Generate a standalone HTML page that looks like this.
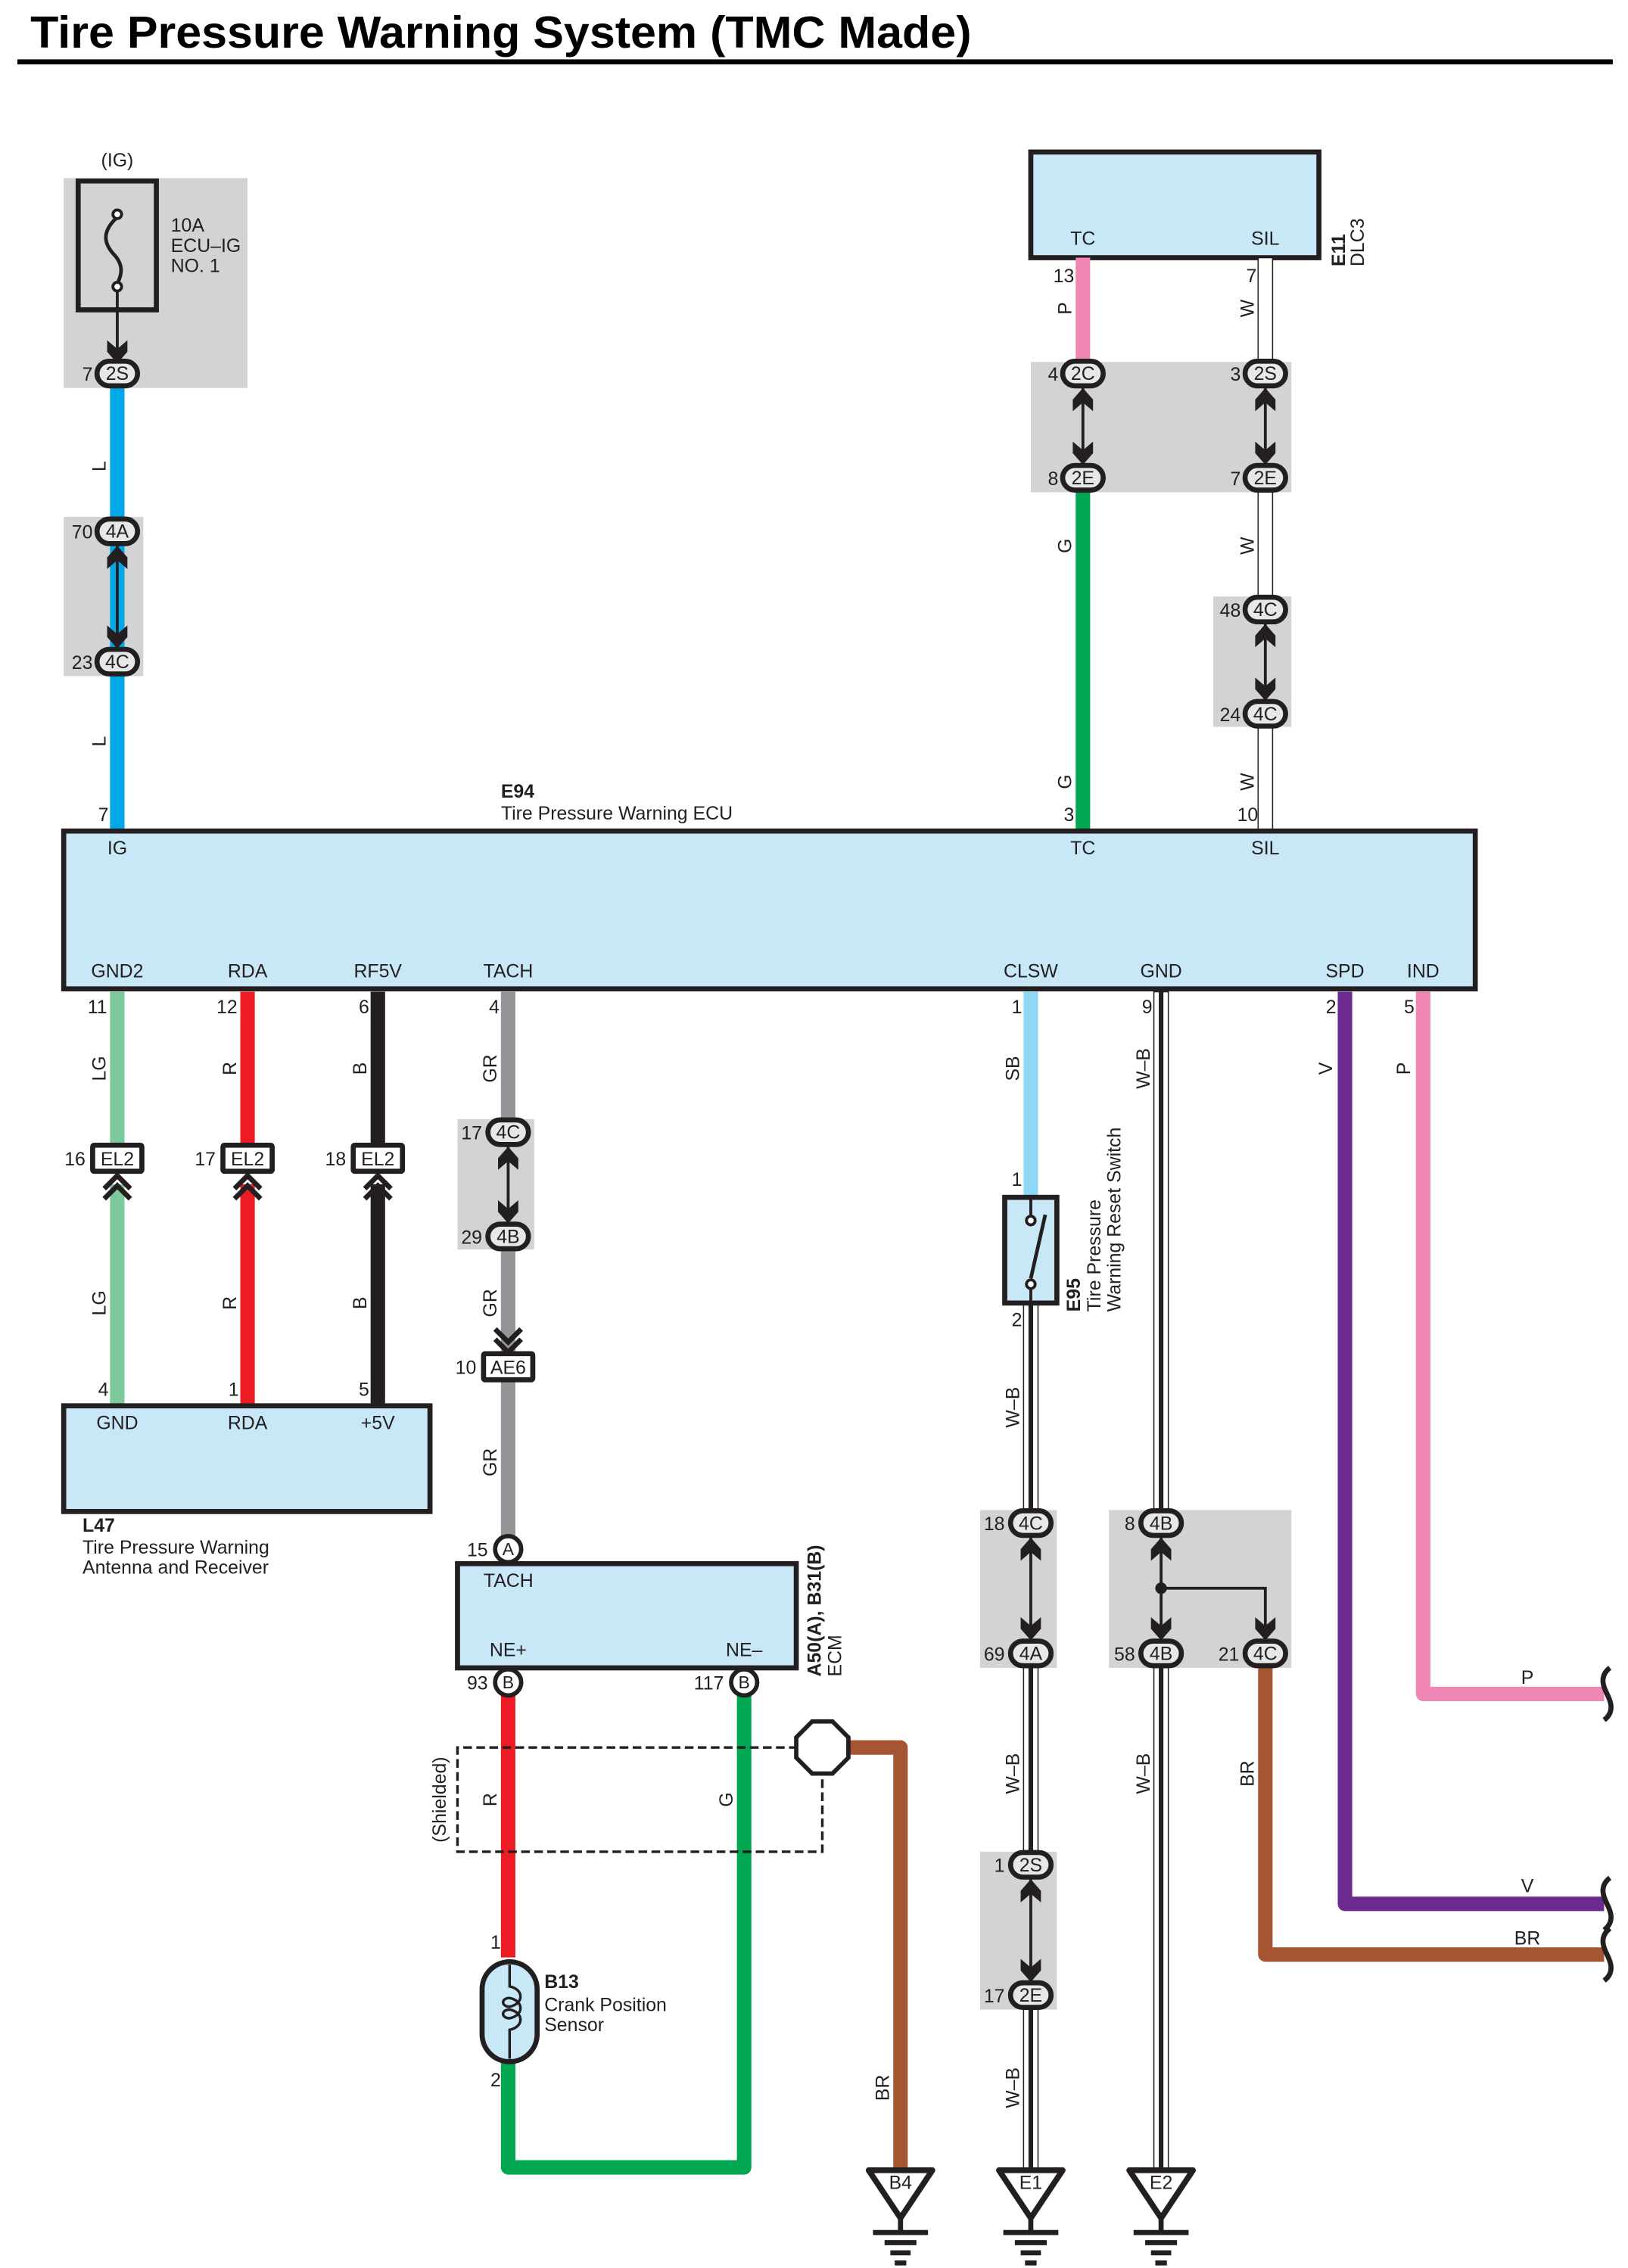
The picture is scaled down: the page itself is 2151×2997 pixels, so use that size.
<!DOCTYPE html>
<html><head><meta charset="utf-8"><style>
html,body{margin:0;padding:0;background:#fff;}
svg{display:block;}
text{font-family:"Liberation Sans",Arial,sans-serif;fill:#231f20;}
</style></head><body>
<svg width="2151" height="2997" viewBox="0 0 1124.5 1566.5" preserveAspectRatio="none" xmlns="http://www.w3.org/2000/svg">
<defs>
<path id="ad" d="M0,0 L-7,-8 L-7,-16 L0,-10 L7,-16 L7,-8 Z" fill="#231f20"/>
<g id="ch"><path d="M-9,0 L0,-9 L9,0 M-9,7 L0,-2 L9,7" fill="none" stroke="#231f20" stroke-width="3.5"/></g>
<g id="gnd"><path d="M-22,0 L22,0 L0,33 Z" fill="#fff" stroke="#231f20" stroke-width="4" stroke-linejoin="round"/><path d="M0,33 L0,43 M-19,43 L19,43 M-11,50 L11,50 M-7,57 L7,57 M-4,64 L4,64" stroke="#231f20" stroke-width="3.5"/></g>
<g id="wv"><path d="M2,-18 C-6,-12 -2,-4 0,0 C2,4 6,12 -2,18" fill="none" stroke="#231f20" stroke-width="3.5"/></g>
</defs>

<!-- Title -->
<text x="21" y="33" font-size="31" font-weight="bold" textLength="650" lengthAdjust="spacingAndGlyphs" style="fill:#000">Tire Pressure Warning System (TMC Made)</text>
<rect x="12" y="41" width="1102" height="3.5" fill="#000"/>

<!-- gray boxes -->
<g fill="#d1d3d4">
<rect x="44" y="123" width="127" height="145"/>
<rect x="44" y="357" width="55" height="110"/>
<rect x="712" y="250" width="180" height="90"/>
<rect x="838" y="412" width="54" height="90"/>
<rect x="316" y="773" width="53" height="90"/>
<rect x="677" y="1043" width="53" height="109"/>
<rect x="766" y="1043" width="126" height="109"/>
<rect x="677" y="1279" width="53" height="109"/>
</g>

<!-- fuse -->
<text x="81" y="115" font-size="13" text-anchor="middle">(IG)</text>
<rect x="54" y="125" width="54" height="89" fill="none" stroke="#231f20" stroke-width="3.5"/>
<path d="M81,150 C70,160 72,168 78,175 C86,183 84,190 81,196" fill="none" stroke="#231f20" stroke-width="2.5"/>
<circle cx="81" cy="148" r="3" fill="#fff" stroke="#231f20" stroke-width="2"/>
<circle cx="81" cy="198" r="3" fill="#fff" stroke="#231f20" stroke-width="2"/>
<line x1="81" y1="201" x2="81" y2="245" stroke="#231f20" stroke-width="2"/>
<use href="#ad" x="81" y="251"/>
<text x="118" y="160" font-size="13">10A</text>
<text x="118" y="174" font-size="13">ECU–IG</text>
<text x="118" y="188" font-size="13">NO. 1</text>

<!-- DLC3 -->
<rect x="712" y="105" width="199" height="73" fill="#c8e8f8" stroke="#231f20" stroke-width="3.5"/>
<text x="748" y="169" font-size="13" text-anchor="middle">TC</text>
<text x="874" y="169" font-size="13" text-anchor="middle">SIL</text>
<text transform="rotate(-90 929 184)" x="929" y="184" font-size="13" font-weight="bold">E11</text>
<text transform="rotate(-90 942 184)" x="942" y="184" font-size="13">DLC3</text>

<!-- wires top -->
<g stroke-width="10" fill="none" stroke-linejoin="round">
<line x1="81" y1="266" x2="81" y2="574" stroke="#00a8e8"/>
<line x1="748" y1="178" x2="748" y2="250" stroke="#f086b4"/>
<line x1="748" y1="338" x2="748" y2="574" stroke="#00a650"/>
</g>
<g>
<rect x="869" y="178" width="10" height="72" fill="#fff" stroke="#231f20" stroke-width="0.8"/>
<rect x="869" y="338" width="10" height="74" fill="#fff" stroke="#231f20" stroke-width="0.8"/>
<rect x="869" y="500" width="10" height="74" fill="#fff" stroke="#231f20" stroke-width="0.8"/>
</g>

<!-- ECU -->
<rect x="44" y="574" width="975" height="109" fill="#c8e8f8" stroke="#231f20" stroke-width="3.5"/>
<text x="346" y="551" font-size="13" font-weight="bold">E94</text>
<text x="346" y="566" font-size="13">Tire Pressure Warning ECU</text>
<g font-size="13" text-anchor="middle">
<text x="81" y="590">IG</text><text x="748" y="590">TC</text><text x="874" y="590">SIL</text>
<text x="81" y="675">GND2</text><text x="171" y="675">RDA</text><text x="261" y="675">RF5V</text><text x="351" y="675">TACH</text>
<text x="712" y="675">CLSW</text><text x="802" y="675">GND</text><text x="929" y="675">SPD</text><text x="983" y="675">IND</text>
</g>

<!-- wires below ECU -->
<g stroke-width="10" fill="none" stroke-linejoin="round">
<line x1="81" y1="685" x2="81" y2="792" stroke="#7ec99b"/>
<line x1="81" y1="818" x2="81" y2="971" stroke="#7ec99b"/>
<line x1="171" y1="685" x2="171" y2="792" stroke="#ed1c24"/>
<line x1="171" y1="818" x2="171" y2="971" stroke="#ed1c24"/>
<line x1="261" y1="685" x2="261" y2="792" stroke="#231f20"/>
<line x1="261" y1="818" x2="261" y2="971" stroke="#231f20"/>
<line x1="351" y1="685" x2="351" y2="775" stroke="#939598"/>
<line x1="351" y1="862" x2="351" y2="1064" stroke="#939598"/>
<line x1="712" y1="685" x2="712" y2="828" stroke="#8fd8f5"/>
<path d="M929,685 L929,1315 L1108,1315" stroke="#6d2a8e"/>
<path d="M983,685 L983,1170 L1108,1170" stroke="#f086b4"/>
<path d="M874,1150 L874,1350 L1108,1350" stroke="#a65532"/>
<path d="M351,1170 L351,1352" stroke="#ed1c24"/>
<path d="M514,1170 L514,1497 L351,1497 L351,1424" stroke="#00a650"/>
<path d="M586,1207 L622,1207 L622,1497" stroke="#a65532"/>
</g>
<!-- W-B wires -->
<g>
<rect x="797" y="685" width="10" height="360" fill="#fff" stroke="#231f20" stroke-width="0.8"/>
<rect x="797" y="1150" width="10" height="351" fill="#fff" stroke="#231f20" stroke-width="0.8"/>
<rect x="707" y="900" width="10" height="145" fill="#fff" stroke="#231f20" stroke-width="0.8"/>
<rect x="707" y="1150" width="10" height="131" fill="#fff" stroke="#231f20" stroke-width="0.8"/>
<rect x="707" y="1386" width="10" height="115" fill="#fff" stroke="#231f20" stroke-width="0.8"/>
</g>
<g stroke="#231f20" stroke-width="3.2">
<line x1="802" y1="685" x2="802" y2="1045"/><line x1="802" y1="1150" x2="802" y2="1501"/>
<line x1="712" y1="900" x2="712" y2="1045"/><line x1="712" y1="1150" x2="712" y2="1281"/><line x1="712" y1="1386" x2="712" y2="1501"/>
</g>

<!-- wire ends -->
<use href="#wv" x="1110" y="1170"/><use href="#wv" x="1110" y="1315"/><use href="#wv" x="1110" y="1350"/>

<!-- double arrows in gray boxes -->
<g stroke="#231f20" stroke-width="2">
<line x1="81" y1="377" x2="81" y2="447"/>
<line x1="748" y1="268" x2="748" y2="320"/><line x1="874" y1="268" x2="874" y2="320"/>
<line x1="874" y1="431" x2="874" y2="483"/>
<line x1="351" y1="792" x2="351" y2="844"/>
<line x1="712" y1="1062" x2="712" y2="1132"/>
<line x1="802" y1="1062" x2="802" y2="1132"/>
<path d="M802,1097 L874,1097 L874,1132" fill="none"/>
<line x1="712" y1="1298" x2="712" y2="1368"/>
</g>
<circle cx="802" cy="1097" r="4" fill="#231f20"/>
<g>
<use href="#ad" transform="translate(81,377) rotate(180)"/><use href="#ad" x="81" y="448"/>
<use href="#ad" transform="translate(748,268) rotate(180)"/><use href="#ad" x="748" y="321"/>
<use href="#ad" transform="translate(874,268) rotate(180)"/><use href="#ad" x="874" y="321"/>
<use href="#ad" transform="translate(874,431) rotate(180)"/><use href="#ad" x="874" y="484"/>
<use href="#ad" transform="translate(351,792) rotate(180)"/><use href="#ad" x="351" y="845"/>
<use href="#ad" transform="translate(712,1062) rotate(180)"/><use href="#ad" x="712" y="1133"/>
<use href="#ad" transform="translate(802,1062) rotate(180)"/><use href="#ad" x="802" y="1133"/><use href="#ad" x="874" y="1133"/>
<use href="#ad" transform="translate(712,1298) rotate(180)"/><use href="#ad" x="712" y="1369"/>
</g>

<!-- pill connectors -->
<g fill="#e6e7e8" stroke="#231f20" stroke-width="3.5">
<rect x="67" y="249.5" width="28" height="17" rx="8.5"/>
<rect x="67" y="358.5" width="28" height="17" rx="8.5"/><rect x="67" y="448.5" width="28" height="17" rx="8.5"/>
<rect x="734" y="249.5" width="28" height="17" rx="8.5"/><rect x="734" y="321.5" width="28" height="17" rx="8.5"/>
<rect x="860" y="249.5" width="28" height="17" rx="8.5"/><rect x="860" y="321.5" width="28" height="17" rx="8.5"/>
<rect x="860" y="412.5" width="28" height="17" rx="8.5"/><rect x="860" y="484.5" width="28" height="17" rx="8.5"/>
<rect x="337" y="773.5" width="28" height="17" rx="8.5"/><rect x="337" y="845.5" width="28" height="17" rx="8.5"/>
<rect x="698" y="1043.5" width="28" height="17" rx="8.5"/><rect x="698" y="1133.5" width="28" height="17" rx="8.5"/>
<rect x="788" y="1043.5" width="28" height="17" rx="8.5"/><rect x="788" y="1133.5" width="28" height="17" rx="8.5"/>
<rect x="860" y="1133.5" width="28" height="17" rx="8.5"/>
<rect x="698" y="1279.5" width="28" height="17" rx="8.5"/><rect x="698" y="1369.5" width="28" height="17" rx="8.5"/>
</g>
<g font-size="13" text-anchor="middle">
<text x="81" y="262.5">2S</text><text x="81" y="371.5">4A</text><text x="81" y="461.5">4C</text>
<text x="748" y="262.5">2C</text><text x="748" y="334.5">2E</text>
<text x="874" y="262.5">2S</text><text x="874" y="334.5">2E</text>
<text x="874" y="425.5">4C</text><text x="874" y="497.5">4C</text>
<text x="351" y="786.5">4C</text><text x="351" y="858.5">4B</text>
<text x="712" y="1056.5">4C</text><text x="712" y="1146.5">4A</text>
<text x="802" y="1056.5">4B</text><text x="802" y="1146.5">4B</text><text x="874" y="1146.5">4C</text>
<text x="712" y="1292.5">2S</text><text x="712" y="1382.5">2E</text>
</g>

<!-- EL2 / AE6 -->
<g fill="#fff" stroke="#231f20" stroke-width="3.5">
<rect x="64" y="791" width="34" height="18" rx="1"/><rect x="154" y="791" width="34" height="18" rx="1"/><rect x="244" y="791" width="34" height="18" rx="1"/>
<rect x="334" y="935" width="34" height="18" rx="1"/>
</g>
<g font-size="13" text-anchor="middle">
<text x="81" y="805">EL2</text><text x="171" y="805">EL2</text><text x="261" y="805">EL2</text><text x="351" y="949">AE6</text>
</g>
<use href="#ch" x="81" y="821"/><use href="#ch" x="171" y="821"/><use href="#ch" x="261" y="821"/>
<use href="#ch" transform="translate(351,925) rotate(180)"/>

<!-- L47 -->
<rect x="44" y="971" width="253" height="73" fill="#c8e8f8" stroke="#231f20" stroke-width="3.5"/>
<g font-size="13" text-anchor="middle"><text x="81" y="987">GND</text><text x="171" y="987">RDA</text><text x="261" y="987">+5V</text></g>
<text x="57" y="1058" font-size="13" font-weight="bold">L47</text>
<text x="57" y="1073" font-size="13">Tire Pressure Warning</text>
<text x="57" y="1087" font-size="13">Antenna and Receiver</text>

<!-- ECM -->
<rect x="316" y="1080" width="234" height="72" fill="#c8e8f8" stroke="#231f20" stroke-width="3.5"/>
<text x="334" y="1096" font-size="13">TACH</text>
<text x="351" y="1144" font-size="13" text-anchor="middle">NE+</text>
<text x="514" y="1144" font-size="13" text-anchor="middle">NE–</text>
<g fill="#fff" stroke="#231f20" stroke-width="3"><circle cx="351" cy="1070" r="9"/><circle cx="351" cy="1162" r="9"/><circle cx="514" cy="1162" r="9"/></g>
<g font-size="12" text-anchor="middle"><text x="351" y="1074">A</text><text x="351" y="1166">B</text><text x="514" y="1166">B</text></g>
<text transform="rotate(-90 567 1158)" x="567" y="1158" font-size="13" font-weight="bold">A50(A), B31(B)</text>
<text transform="rotate(-90 581 1158)" x="581" y="1158" font-size="13">ECM</text>

<!-- shield -->
<path d="M551,1207 L316,1207 L316,1279 L568,1279 L568,1225" fill="none" stroke="#231f20" stroke-width="1.8" stroke-dasharray="6,3"/>
<polygon points="561,1189 575,1189 586,1200 586,1214 575,1225 561,1225 550,1214 550,1200" fill="#fff" stroke="#231f20" stroke-width="3"/>
<text transform="rotate(-90 308 1243)" x="308" y="1243" font-size="13" text-anchor="middle">(Shielded)</text>

<!-- sensor B13 -->
<rect x="333" y="1355" width="38" height="69" rx="19" fill="#c8e8f8" stroke="#231f20" stroke-width="3.5"/>
<path d="M352,1357 L352,1372 C362,1374 362,1384 352,1386 C346,1386 346,1380 352,1380 C362,1382 362,1392 352,1394 C346,1394 346,1388 352,1388 C362,1390 362,1400 352,1402 L352,1422" fill="none" stroke="#231f20" stroke-width="1.8"/>
<text x="376" y="1373" font-size="13" font-weight="bold">B13</text>
<text x="376" y="1389" font-size="13">Crank Position</text>
<text x="376" y="1403" font-size="13">Sensor</text>

<!-- switch E95 -->
<rect x="694" y="827" width="36" height="73" fill="#c8e8f8" stroke="#231f20" stroke-width="3.5"/>
<line x1="712" y1="828" x2="712" y2="840" stroke="#231f20" stroke-width="2"/>
<line x1="712" y1="886" x2="712" y2="900" stroke="#231f20" stroke-width="2"/>
<line x1="712" y1="883" x2="722" y2="839" stroke="#231f20" stroke-width="2.5"/>
<circle cx="712" cy="843" r="3" fill="#fff" stroke="#231f20" stroke-width="2"/>
<circle cx="712" cy="887" r="3" fill="#fff" stroke="#231f20" stroke-width="2"/>
<text transform="rotate(-90 746 906)" x="746" y="906" font-size="13" font-weight="bold">E95</text>
<text transform="rotate(-90 760 906)" x="760" y="906" font-size="13">Tire Pressure</text>
<text transform="rotate(-90 774 906)" x="774" y="906" font-size="13">Warning Reset Switch</text>

<!-- grounds -->
<use href="#gnd" x="622" y="1499"/><use href="#gnd" x="712" y="1499"/><use href="#gnd" x="802" y="1499"/>
<g font-size="13" text-anchor="middle"><text x="622" y="1512">B4</text><text x="712" y="1512">E1</text><text x="802" y="1512">E2</text></g>

<!-- pin numbers -->
<g font-size="13" text-anchor="end">
<text x="64" y="263">7</text><text x="64" y="372">70</text><text x="64" y="462">23</text><text x="75" y="567">7</text>
<text x="742" y="195">13</text><text x="731" y="263">4</text><text x="731" y="335">8</text><text x="742" y="567">3</text>
<text x="868" y="195">7</text><text x="857" y="263">3</text><text x="857" y="335">7</text><text x="857" y="426">48</text><text x="857" y="498">24</text><text x="869" y="567">10</text>
<text x="74" y="700">11</text><text x="164" y="700">12</text><text x="255" y="700">6</text><text x="345" y="700">4</text>
<text x="706" y="700">1</text><text x="796" y="700">9</text><text x="923" y="700">2</text><text x="977" y="700">5</text>
<text x="59" y="805">16</text><text x="149" y="805">17</text><text x="239" y="805">18</text>
<text x="333" y="787">17</text><text x="333" y="859">29</text><text x="329" y="949">10</text>
<text x="75" y="964">4</text><text x="165" y="964">1</text><text x="255" y="964">5</text>
<text x="337" y="1075">15</text><text x="337" y="1167">93</text><text x="500" y="1167">117</text>
<text x="346" y="1346">1</text><text x="346" y="1441">2</text>
<text x="706" y="819">1</text><text x="706" y="916">2</text>
<text x="694" y="1057">18</text><text x="694" y="1147">69</text>
<text x="784" y="1057">8</text><text x="784" y="1147">58</text><text x="856" y="1147">21</text>
<text x="694" y="1293">1</text><text x="694" y="1383">17</text>
</g>

<!-- wire color labels (rotated) -->
<g font-size="13" text-anchor="middle">
<text transform="rotate(-90 73 322)" x="73" y="322">L</text>
<text transform="rotate(-90 73 512)" x="73" y="512">L</text>
<text transform="rotate(-90 740 213)" x="740" y="213">P</text>
<text transform="rotate(-90 740 377)" x="740" y="377">G</text>
<text transform="rotate(-90 740 540)" x="740" y="540">G</text>
<text transform="rotate(-90 866 213)" x="866" y="213">W</text>
<text transform="rotate(-90 866 377)" x="866" y="377">W</text>
<text transform="rotate(-90 866 540)" x="866" y="540">W</text>
<text transform="rotate(-90 73 738)" x="73" y="738">LG</text>
<text transform="rotate(-90 73 900)" x="73" y="900">LG</text>
<text transform="rotate(-90 163 738)" x="163" y="738">R</text>
<text transform="rotate(-90 163 900)" x="163" y="900">R</text>
<text transform="rotate(-90 253 738)" x="253" y="738">B</text>
<text transform="rotate(-90 253 900)" x="253" y="900">B</text>
<text transform="rotate(-90 343 738)" x="343" y="738">GR</text>
<text transform="rotate(-90 343 900)" x="343" y="900">GR</text>
<text transform="rotate(-90 343 1010)" x="343" y="1010">GR</text>
<text transform="rotate(-90 343 1243)" x="343" y="1243">R</text>
<text transform="rotate(-90 506 1243)" x="506" y="1243">G</text>
<text transform="rotate(-90 614 1442)" x="614" y="1442">BR</text>
<text transform="rotate(-90 704 738)" x="704" y="738">SB</text>
<text transform="rotate(-90 704 972)" x="704" y="972">W–B</text>
<text transform="rotate(-90 704 1225)" x="704" y="1225">W–B</text>
<text transform="rotate(-90 704 1442)" x="704" y="1442">W–B</text>
<text transform="rotate(-90 794 738)" x="794" y="738">W–B</text>
<text transform="rotate(-90 794 1225)" x="794" y="1225">W–B</text>
<text transform="rotate(-90 866 1225)" x="866" y="1225">BR</text>
<text transform="rotate(-90 920 738)" x="920" y="738">V</text>
<text transform="rotate(-90 974 738)" x="974" y="738">P</text>
<text x="1055" y="1163">P</text>
<text x="1055" y="1307">V</text>
<text x="1055" y="1343">BR</text>
</g>
</svg>
</body></html>
